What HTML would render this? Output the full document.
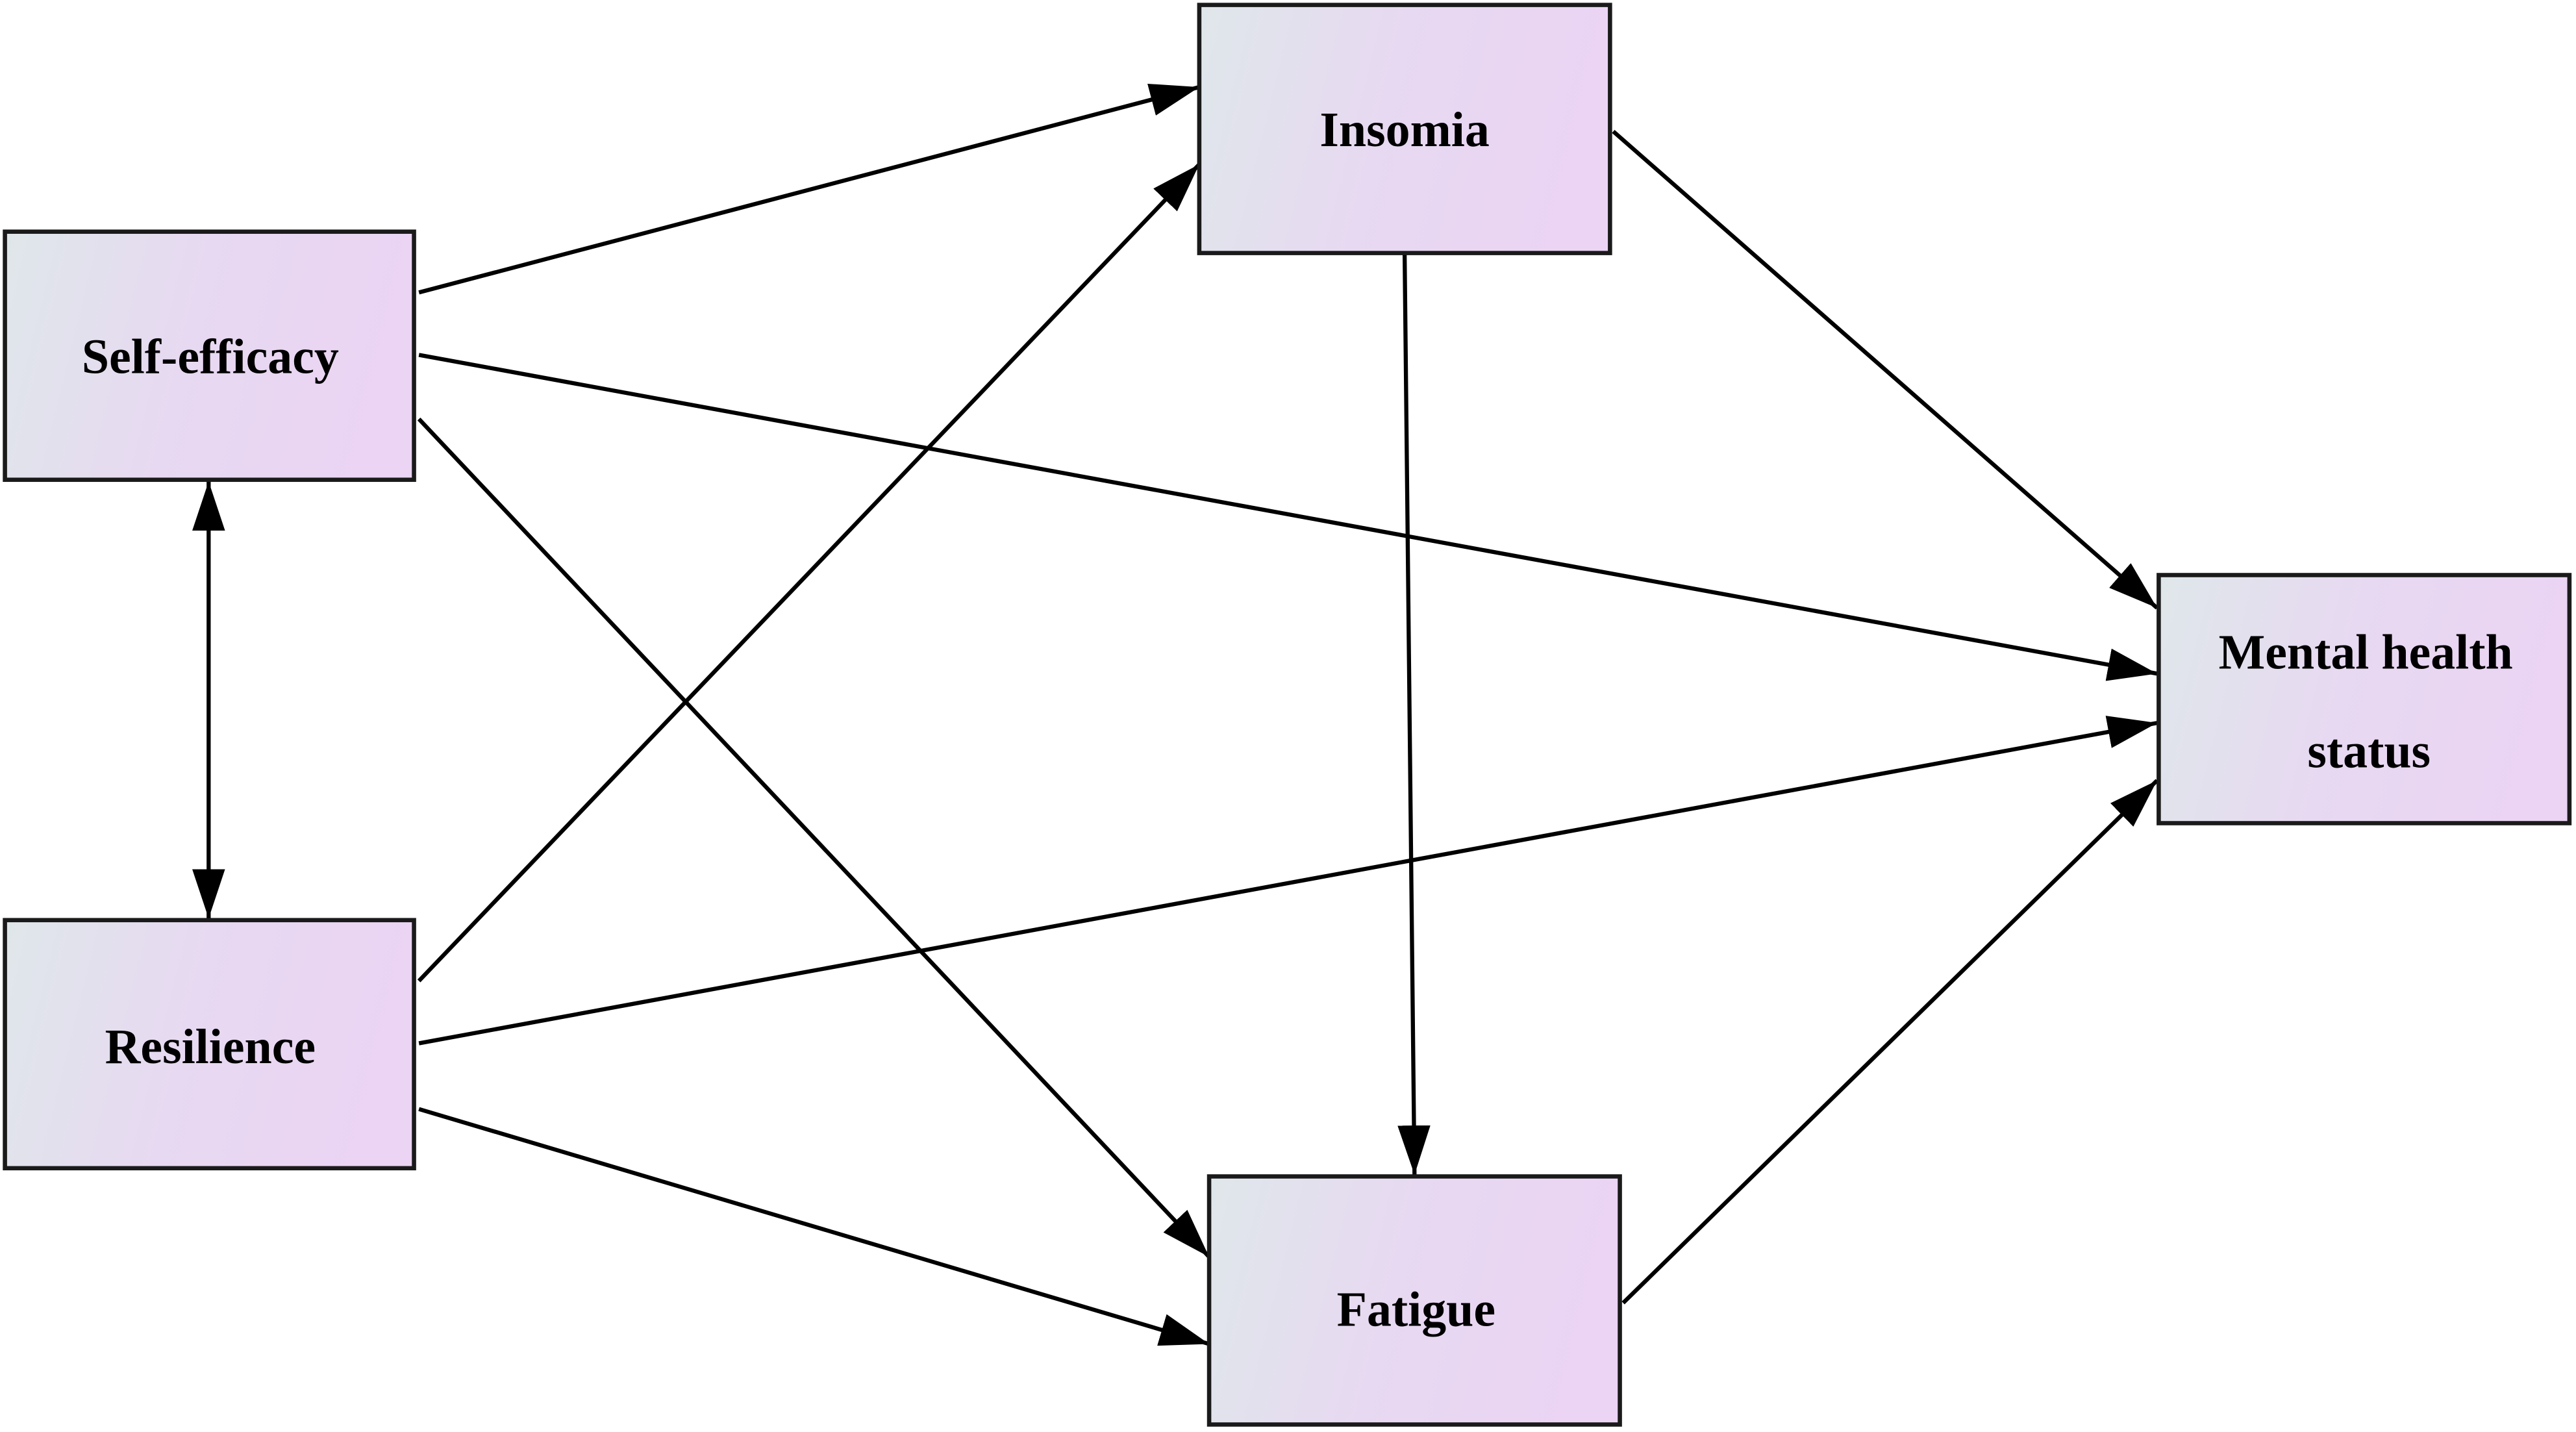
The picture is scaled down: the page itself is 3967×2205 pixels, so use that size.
<!DOCTYPE html>
<html><head><meta charset="utf-8"><style>
html,body{margin:0;padding:0;background:#fff;}
svg{display:block;}
text{font-family:"Liberation Serif",serif;font-weight:bold;font-size:30px;fill:#000;}
</style></head><body>
<svg width="3967" height="2205" viewBox="0 0 1568 871.55" xmlns="http://www.w3.org/2000/svg">
<defs>
<linearGradient id="g" x1="0" y1="0" x2="1" y2="0.15">
<stop offset="0" stop-color="#dfe7ea"/><stop offset="0.5" stop-color="#e7d9f1"/><stop offset="1" stop-color="#ebd4f4"/>
</linearGradient>
<marker id="a" markerWidth="12" markerHeight="9" refX="12" refY="4.5" orient="auto" markerUnits="userSpaceOnUse" viewBox="0 0 12 9">
</marker>
<marker id="ar" viewBox="0 0 30 20" refX="30" refY="10" markerWidth="30" markerHeight="20" orient="auto-start-reverse" markerUnits="userSpaceOnUse">
<path d="M0,0 L30,10 L0,20 Z" fill="#000"/>
</marker>
</defs>
<g stroke="#000" stroke-width="2.5" fill="none" marker-end="url(#ar)">
<line x1="255" y1="178" x2="730" y2="53"/>
<line x1="255" y1="216" x2="1313" y2="410"/>
<line x1="255" y1="255" x2="736" y2="765"/>
<line x1="255" y1="597" x2="730" y2="100"/>
<line x1="255" y1="635" x2="1313" y2="440"/>
<line x1="255" y1="675" x2="736" y2="818"/>
<line x1="855" y1="155" x2="861" y2="715"/>
<line x1="982" y1="80" x2="1313" y2="370"/>
<line x1="988" y1="793" x2="1313" y2="475"/>
<line x1="127" y1="293" x2="127" y2="559" marker-start="url(#ar)"/>
</g>
<g stroke="#1a1a1a" stroke-width="2.6" fill="url(#g)">
<rect x="3" y="141" width="249" height="151"/>
<rect x="3" y="560" width="249" height="151"/>
<rect x="730" y="3" width="250" height="151"/>
<rect x="736" y="716" width="250" height="151"/>
<rect x="1314" y="350" width="250" height="151"/>
</g>
<text x="128" y="227" text-anchor="middle">Self-efficacy</text>
<text x="128" y="647" text-anchor="middle">Resilience</text>
<text x="855" y="89" text-anchor="middle">Insomia</text>
<text x="862" y="807" text-anchor="middle">Fatigue</text>
<text x="1440" y="407" text-anchor="middle">Mental health</text>
<text x="1442" y="467" text-anchor="middle">status</text>
</svg>
</body></html>
